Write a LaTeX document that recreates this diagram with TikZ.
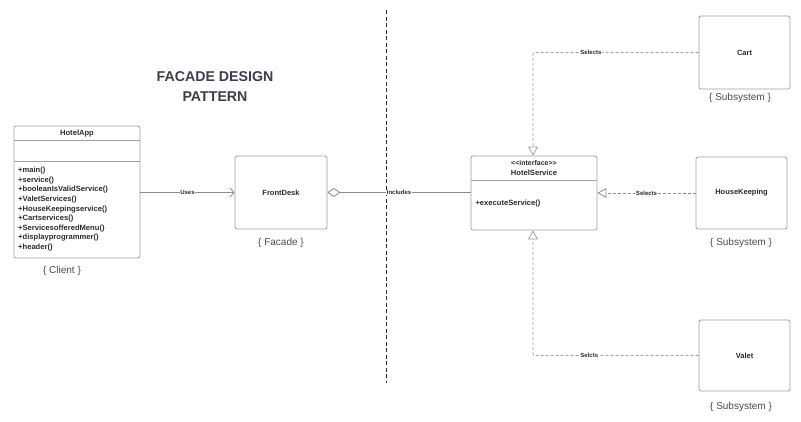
\documentclass[tikz,border=0pt]{standalone}
\usepackage{fontspec}
\setmainfont{Liberation Sans}
\usetikzlibrary{arrows.meta,positioning}
\definecolor{boxgray}{HTML}{A0A0A0}
\definecolor{linegray}{HTML}{8C8C8C}
\definecolor{txtdark}{HTML}{2B2B2B}
\definecolor{titlegray}{HTML}{3A3F4B}

\begin{document}
\begin{tikzpicture}[x=1pt,y=-1pt]
\useasboundingbox (0,0) rectangle (801,421);
\begin{scope}[every node/.style={rectangle,rounded corners=2pt,draw=boxgray,thick,
              text=txtdark,font=\fontsize{7.5}{9}\selectfont\bfseries}]
    \node[minimum width=126pt,minimum height=132pt] (App) at (77,192) {};
    \node[minimum width=92pt,minimum height=73pt] (Desk) at (281,192.5) {FrontDesk};
    \node[minimum width=126pt,minimum height=74pt] (Service) at (534,193) {};
    \node[minimum width=91pt,minimum height=73pt] (Cart) at (744.5,52.5) {Cart};
    \node[minimum width=91pt,minimum height=72pt] (House) at (741.5,193) {HouseKeeping};
    \node[minimum width=91pt,minimum height=71pt] (Valet) at (744.5,355.5) {Valet};
\end{scope}
\begin{scope}[every path/.style={draw=boxgray,thick}]
    \draw ([yshift=-15pt]App.north west) -- ([yshift=-15pt]App.north east);
    \draw ([yshift=-36pt]App.north west) -- ([yshift=-36pt]App.north east);
    \draw ([yshift=-25pt]Service.north west) -- ([yshift=-25pt]Service.north east);
\end{scope}
\begin{scope}[every node/.style={text=txtdark,font=\fontsize{7.6}{9.6}\selectfont\bfseries}]
    \node (AppName) at (77,133.5) {HotelApp};
    \node[anchor=north west,align=left,inner sep=0pt] (AppOps) at (18,167)
        {+main()\\+service()\\+booleanIsValidService()\\+ValetServices()\\
         +HouseKeepingservice()\\+Cartservices()\\+ServicesofferedMenu()\\
         +displayprogrammer()\\+header()};
    \node[font=\fontsize{7}{8}\selectfont\bfseries] (Stereo) at (534,162.5)
        {<\kern0pt<interface>\kern0pt>};
    \node (ServName) at (534,172.5) {HotelService};
    \node[anchor=west] (ServOps) at (472,204) {+executeService()};
\end{scope}
\begin{scope}[every node/.style={text=txtdark!85,font=\fontsize{10}{12}\selectfont}]
    \node (Client) at (62,271) {\{ Client \}};
    \node (Facade) at (281,243) {\{ Facade \}};
    \node (SubCart) at (740,98) {\{ Subsystem \}};
    \node (SubHouse) at (741,243) {\{ Subsystem \}};
    \node (SubValet) at (741,407) {\{ Subsystem \}};
\end{scope}
\node[text=titlegray,font=\fontsize{14.2}{20}\selectfont\bfseries,align=center] (Title)
    at (215,87) {FACADE DESIGN\\PATTERN};
\coordinate (LineTop) at (386,10);
\coordinate (LineBot) at (386,383);
\draw[txtdark,thick,dash pattern=on 4pt off 2.5pt] (LineTop) -- (LineBot);
\coordinate (CartBend) at (533,52.5);
\coordinate (ValetBend) at (533,355.5);
\begin{scope}[every node/.style={fill=white,inner sep=0.6pt,text=txtdark,
              font=\fontsize{6}{7}\selectfont\bfseries},
              every edge/.style={draw=linegray,thick}]
    \path (App.east |- Desk) edge[-{Straight Barb[length=4pt,width=9pt]}] node {Uses} (Desk.west);
    \path (Desk.east) edge[{Diamond[open,length=13pt,width=9pt,fill=white]}-] node[pos=0.5] {Includes} (Service.west |- Desk);
    \path (House.west) edge[dash pattern=on 3pt off 2pt,-{Triangle[open,length=9pt,width=10pt,fill=white]}] node {Selects} (Service.east |- House);
\end{scope}
\begin{scope}[every node/.style={fill=white,inner sep=0.6pt,text=txtdark,
              font=\fontsize{6}{7}\selectfont\bfseries},
              every path/.style={draw=boxgray,thick,dash pattern=on 3pt off 2pt}]
    \draw[rounded corners=2pt,-{Triangle[open,length=9pt,width=10pt,fill=white]}]
        (Cart.west) -- node[pos=0.65] {Selects} (CartBend) -- (CartBend |- Service.north);
    \draw[rounded corners=2pt,-{Triangle[open,length=9pt,width=10pt,fill=white]}]
        (Valet.west) -- node[pos=0.66] {Selcts} (ValetBend) -- (ValetBend |- Service.south);
\end{scope}
\end{tikzpicture}
\end{document}
